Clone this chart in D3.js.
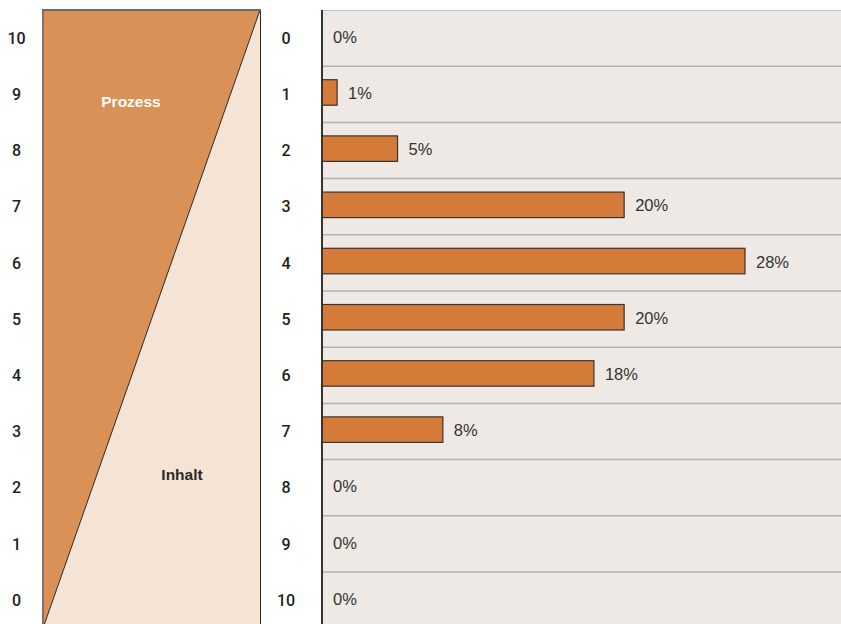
<!DOCTYPE html>
<html>
<head>
<meta charset="utf-8">
<script src="https://cdn.jsdelivr.net/npm/d3@7"></script>
<style>
  html, body { margin: 0; padding: 0; background: #ffffff; }
  svg { display: block; font-family: "Liberation Sans", Arial, Helvetica, sans-serif; }
  .num { font-family: Roboto, "Liberation Sans", Arial, sans-serif; font-weight: 500; }
</style>
</head>
<body>
<svg id="chart" width="841" height="624"></svg>
<script>
// Anzahl (0–10) und Anteil der Antworten in Prozent
const categories = [0, 1, 2, 3, 4, 5, 6, 7, 8, 9, 10];
const shares = [0, 1, 5, 20, 28, 20, 18, 8, 0, 0, 0];
// Skala des linken Keils (Prozess oben, Inhalt unten)
const wedgeTicks = [10, 9, 8, 7, 6, 5, 4, 3, 2, 1, 0];
const wedgeLabels = [{ text: "Prozess", part: "upper" }, { text: "Inhalt", part: "lower" }];

const W = 841, H = 624;
const topY = 10, step = 56.2;
const svg = d3.select("#chart");

// Zeilen
const y = d3.scaleBand()
  .domain(categories)
  .range([topY, topY + step * categories.length])
  .padding(0);

// Balkenlänge
const x = d3.scaleLinear().domain([0, 28]).range([322, 745]);

// Linke Skala 0–10
const yLeft = d3.scaleLinear()
  .domain([0, 10])
  .range([y(10) + y.bandwidth() / 2, y(0) + y.bandwidth() / 2]);

// ---------- Keil links ----------
const wx0 = 43, wx1 = 260, wy0 = topY, wy1 = y.range()[1];

const wedge = svg.append("g");
wedge.append("rect")
  .attr("x", wx0).attr("y", wy0)
  .attr("width", wx1 - wx0).attr("height", wy1 - wy0)
  .attr("fill", "#F5E4D5");
wedge.append("path")
  .attr("d", d3.line()([[wx0, wy0], [wx1, wy0], [wx0, wy1]]) + "Z")
  .attr("fill", "#D99157");
wedge.append("line")
  .attr("x1", wx1).attr("y1", wy0).attr("x2", wx0).attr("y2", wy1)
  .attr("stroke", "#2b2b2b").attr("stroke-width", 1);
wedge.append("line")
  .attr("x1", wx1 + 0.5).attr("y1", wy0).attr("x2", wx1 + 0.5).attr("y2", wy1)
  .attr("stroke", "#2b2b2b").attr("stroke-width", 1);
wedge.append("line")
  .attr("x1", wx0).attr("y1", wy0).attr("x2", wx0).attr("y2", wy1)
  .attr("stroke", "#8a7060").attr("stroke-width", 2);
wedge.append("line")
  .attr("x1", wx0 - 1).attr("y1", wy0).attr("x2", wx1 + 1).attr("y2", wy0)
  .attr("stroke", "#6e6a66").attr("stroke-width", 2);

wedge.selectAll("text.wl")
  .data(wedgeLabels)
  .join("text")
  .attr("class", "wl")
  .attr("x", d => d.part === "upper" ? 131 : 182)
  .attr("y", d => d.part === "upper" ? 102 : 475)
  .attr("dy", "0.35em")
  .attr("text-anchor", "middle")
  .attr("font-size", 15.5)
  .attr("font-weight", "bold")
  .attr("fill", d => d.part === "upper" ? "#ffffff" : "#2b2b2b")
  .text(d => d.text);

svg.append("g").selectAll("text")
  .data(wedgeTicks)
  .join("text")
  .attr("class", "num")
  .attr("x", 16.5)
  .attr("y", d => yLeft(d))
  .attr("dy", "0.36em")
  .attr("text-anchor", "middle")
  .attr("font-size", 16)
  .attr("fill", "#1e1e1e")
  .text(d => d);

// ---------- Balken rechts ----------
const px0 = 321;
svg.append("rect")
  .attr("x", px0).attr("y", topY)
  .attr("width", W - px0).attr("height", wy1 - topY)
  .attr("fill", "#EEE9E5");

svg.append("line")
  .attr("x1", px0).attr("x2", W).attr("y1", topY + 0.5).attr("y2", topY + 0.5)
  .attr("stroke", "#c4c0bc").attr("stroke-width", 1);

svg.append("g").selectAll("line")
  .data(categories.slice(1))
  .join("line")
  .attr("x1", px0).attr("x2", W)
  .attr("y1", d => y(d)).attr("y2", d => y(d))
  .attr("stroke", "#b5b1ad").attr("stroke-width", 1.5);

const rows = categories.map((c, i) => ({ c, v: shares[i] }));

svg.append("g").selectAll("rect")
  .data(rows.filter(d => d.v > 0))
  .join("rect")
  .attr("x", x(0))
  .attr("y", d => y(d.c) + 13.5)
  .attr("width", d => x(d.v) - x(0))
  .attr("height", 25.5)
  .attr("fill", "#D47B3A")
  .attr("stroke", "#3a3430")
  .attr("stroke-width", 1.2);

svg.append("g").selectAll("text")
  .data(rows)
  .join("text")
  .attr("x", d => x(d.v) + 11)
  .attr("y", d => y(d.c) + y.bandwidth() / 2 - 1)
  .attr("dy", "0.35em")
  .attr("font-size", 16.5)
  .attr("fill", "#333")
  .text(d => d.v + "%");

svg.append("line")
  .attr("x1", px0 + 1).attr("x2", px0 + 1).attr("y1", topY).attr("y2", wy1)
  .attr("stroke", "#3a3430").attr("stroke-width", 2);

// Kategorien zwischen den Feldern
svg.append("g").selectAll("text")
  .data(categories)
  .join("text")
  .attr("class", "num")
  .attr("x", 286)
  .attr("y", d => y(d) + y.bandwidth() / 2)
  .attr("dy", "0.36em")
  .attr("text-anchor", "middle")
  .attr("font-size", 16)
  .attr("fill", "#1e1e1e")
  .text(d => d);
</script>
</body>
</html>
